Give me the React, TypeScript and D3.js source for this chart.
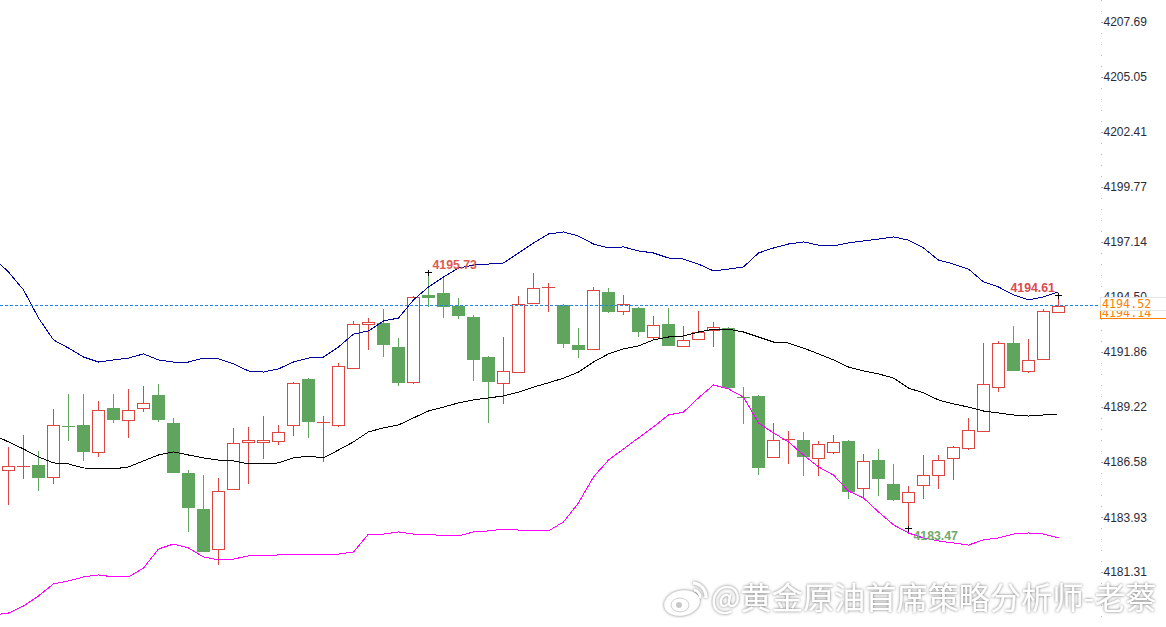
import React, { useEffect, useRef } from 'react';
import * as d3 from 'd3';

const WIDTH = 1166;
const HEIGHT = 627;

const tickLabels = ['4207.69', '4205.05', '4202.41', '4199.77', '4197.14', '4194.50', '4191.86', '4189.22', '4186.58', '4183.93', '4181.31'];

const opens = [
  4186.23, 4186.43, 4186.47, 4185.90, 4188.34, 4188.39, 4187.10, 4189.21, 4188.63, 4189.21,
  4189.83, 4188.49, 4186.09, 4184.36, 4182.44, 4185.32, 4187.58, 4187.58, 4187.62, 4188.39,
  4190.60, 4188.54, 4188.39, 4191.12, 4193.24, 4193.28, 4192.13, 4190.45, 4194.63, 4194.72,
  4194.10, 4193.57, 4191.65, 4190.41, 4190.93, 4194.24, 4195.01, 4194.15, 4192.23, 4192.04,
  4194.77, 4193.86, 4194.00, 4192.61, 4193.24, 4192.18, 4192.52, 4192.95, 4193.04, 4189.73,
  4189.78, 4186.86, 4187.72, 4187.67, 4186.81, 4187.10, 4187.62, 4185.37, 4186.71, 4185.56,
  4184.70, 4185.51, 4185.99, 4186.81, 4187.29, 4188.10, 4190.21, 4192.32, 4190.98, 4191.56,
  4193.81,
];
const highs = [
  4187.33, 4187.91, 4187.14, 4189.16, 4189.88, 4189.88, 4189.54, 4189.88, 4190.12, 4190.26,
  4190.36, 4188.73, 4186.23, 4185.99, 4185.85, 4188.25, 4188.30, 4188.82, 4188.39, 4190.45,
  4190.64, 4188.82, 4191.36, 4193.38, 4193.52, 4193.95, 4192.56, 4194.58, 4195.73, 4195.49,
  4194.48, 4193.67, 4191.70, 4192.61, 4194.58, 4195.68, 4195.20, 4194.19, 4193.04, 4195.01,
  4194.96, 4194.63, 4194.05, 4193.62, 4194.00, 4193.14, 4193.86, 4193.33, 4193.09, 4190.21,
  4189.83, 4188.49, 4188.10, 4188.06, 4187.62, 4187.91, 4187.67, 4187.00, 4187.24, 4186.52,
  4185.47, 4186.95, 4186.95, 4187.38, 4188.73, 4192.32, 4192.42, 4193.14, 4192.52, 4193.95,
  4194.61,
];
const lows = [
  4184.55, 4185.80, 4185.22, 4185.56, 4187.62, 4186.67, 4186.86, 4188.49, 4187.77, 4189.01,
  4188.54, 4186.09, 4183.26, 4182.30, 4181.68, 4185.32, 4185.56, 4186.76, 4187.43, 4187.86,
  4187.77, 4186.62, 4188.30, 4191.12, 4191.99, 4191.65, 4190.26, 4190.36, 4194.05, 4193.52,
  4193.47, 4190.50, 4188.49, 4189.40, 4190.93, 4194.24, 4193.81, 4192.08, 4191.60, 4192.04,
  4193.76, 4193.67, 4192.61, 4192.47, 4192.18, 4192.18, 4192.52, 4192.13, 4190.16, 4188.44,
  4185.99, 4186.86, 4186.52, 4185.95, 4185.95, 4187.00, 4184.84, 4184.89, 4184.99, 4184.75,
  4183.47, 4184.84, 4185.32, 4185.75, 4187.19, 4188.06, 4189.97, 4190.98, 4190.88, 4191.56,
  4193.81,
];
const closes = [
  4186.43, 4186.43, 4185.85, 4188.39, 4188.33, 4187.10, 4189.11, 4188.63, 4189.11, 4189.45,
  4188.63, 4186.09, 4184.41, 4182.30, 4185.22, 4187.53, 4187.67, 4187.67, 4188.06, 4190.41,
  4188.54, 4188.54, 4191.22, 4193.24, 4193.33, 4192.23, 4190.41, 4194.53, 4194.48, 4194.05,
  4193.62, 4191.51, 4190.45, 4190.98, 4194.19, 4194.96, 4195.01, 4192.27, 4191.99, 4194.87,
  4193.81, 4194.19, 4192.85, 4193.19, 4192.18, 4192.47, 4192.85, 4193.09, 4190.16, 4189.72,
  4186.33, 4187.67, 4187.72, 4186.86, 4187.48, 4187.58, 4185.18, 4186.67, 4185.80, 4184.79,
  4185.18, 4185.99, 4186.71, 4187.33, 4188.15, 4190.36, 4192.32, 4190.98, 4191.51, 4193.86,
  4194.10,
];

// Band values start one bar before the first candle, the line runs off the left edge
const upperBand = [
  4196.40, 4195.73, 4194.87, 4193.52, 4192.47, 4192.08, 4191.65, 4191.41, 4191.51, 4191.60,
  4191.80, 4191.51, 4191.41, 4191.41, 4191.60, 4191.56, 4191.32, 4190.98, 4190.93, 4191.08,
  4191.41, 4191.60, 4191.65, 4192.13, 4192.75, 4192.90, 4193.38, 4193.52, 4194.39, 4195.01,
  4195.49, 4195.92, 4196.06, 4196.11, 4196.16, 4196.64, 4197.12, 4197.55, 4197.65, 4197.45,
  4197.07, 4196.88, 4196.93, 4196.74, 4196.64, 4196.40, 4196.35, 4196.11, 4195.78, 4195.87,
  4195.97, 4196.64, 4196.88, 4197.07, 4197.17, 4197.02, 4196.98, 4197.12, 4197.22, 4197.31,
  4197.41, 4197.26, 4196.88, 4196.30, 4196.11, 4195.87, 4195.25, 4195.01, 4194.63, 4194.39,
  4194.53, 4194.77,
];
const middleBand = [
  4187.91, 4187.58, 4187.24, 4186.86, 4186.57, 4186.52, 4186.33, 4186.28, 4186.28, 4186.38,
  4186.67, 4186.95, 4187.10, 4186.95, 4186.81, 4186.71, 4186.67, 4186.52, 4186.52, 4186.57,
  4186.81, 4186.90, 4186.81, 4187.19, 4187.58, 4188.06, 4188.25, 4188.39, 4188.73, 4189.06,
  4189.25, 4189.45, 4189.59, 4189.69, 4189.78, 4189.97, 4190.21, 4190.41, 4190.64, 4190.93,
  4191.41, 4191.80, 4192.04, 4192.18, 4192.47, 4192.61, 4192.66, 4192.85, 4192.99, 4192.99,
  4192.85, 4192.61, 4192.37, 4192.32, 4192.08, 4191.80, 4191.51, 4191.17, 4190.98, 4190.84,
  4190.64, 4190.16, 4189.93, 4189.59, 4189.40, 4189.25, 4189.06, 4188.97, 4188.87, 4188.82,
  4188.87, 4188.92,
];
const lowerBand = [
  4179.28, 4179.37, 4179.71, 4180.19, 4180.77, 4180.91, 4181.10, 4181.20, 4181.10, 4181.10,
  4181.53, 4182.44, 4182.68, 4182.49, 4182.06, 4181.92, 4181.96, 4182.11, 4182.11, 4182.16,
  4182.16, 4182.20, 4182.20, 4182.20, 4182.30, 4183.16, 4183.16, 4183.26, 4183.16, 4183.16,
  4183.07, 4183.07, 4183.26, 4183.31, 4183.40, 4183.35, 4183.31, 4183.31, 4183.74, 4184.65,
  4185.90, 4186.71, 4187.24, 4187.77, 4188.30, 4188.87, 4189.01, 4189.69, 4190.31, 4190.12,
  4189.73, 4188.49, 4188.01, 4187.58, 4186.95, 4186.38, 4185.99, 4185.22, 4184.89, 4184.22,
  4183.60, 4183.21, 4182.97, 4182.83, 4182.73, 4182.63, 4182.88, 4182.97, 4183.16, 4183.21,
  4183.16, 4182.97,
];

const lastPrice = 4194.14;
const extremes = [
  { index: 28, price: 4195.73, label: '4195.73', color: '#dc5a50', dx: 4, dy: -7 },
  { index: 70, price: 4194.61, label: '4194.61', color: '#dc4a50', dx: -48, dy: -7 },
  { index: 60, price: 4183.47, label: '4183.47', color: '#6fa86a', dx: 5, dy: 8 },
];

const RED = '#dc4540';
const GREEN = '#60a55d';
const AXIS_X = 1101;

const App: React.FC = () => {
  const svgRef = useRef<SVGSVGElement>(null);

  useEffect(() => {
    if (!svgRef.current) return;
    const svg = d3.select(svgRef.current);
    svg.selectAll('*').remove();

    const x = d3.scaleLinear().domain([0, 70]).range([8.5, 1058.5]);
    const y = d3.scaleLinear().domain([4181.31, 4207.69]).range([572.6, 22.6]);
    const snap = (v: number) => Math.round(v) + 0.5;

    const defs = svg.append('defs');
    const glow = defs.append('filter').attr('id', 'mark-glow').attr('x', '-5%').attr('y', '-30%').attr('width', '110%').attr('height', '160%');
    glow.append('feDropShadow').attr('dx', 0).attr('dy', 0).attr('stdDeviation', 1.5).attr('flood-color', '#666').attr('flood-opacity', 0.95);

    const bars = svg.append('g').attr('shape-rendering', 'crispEdges');
    opens.forEach((open, i) => {
      const close = closes[i];
      const down = close < open;
      const color = down ? GREEN : RED;
      const cx = x(i);
      bars.append('line').attr('x1', cx).attr('x2', cx).attr('y1', Math.round(y(highs[i]))).attr('y2', Math.round(y(lows[i]))).attr('stroke', color);

      const top = Math.round(y(Math.max(open, close)));
      const bottom = Math.round(y(Math.min(open, close)));
      if (bottom - top < 1) {
        bars.append('line').attr('x1', cx - 6.5).attr('x2', cx + 6.5).attr('y1', top + 0.5).attr('y2', top + 0.5).attr('stroke', color);
      } else if (down) {
        bars.append('rect').attr('x', cx - 6.5).attr('y', top).attr('width', 13).attr('height', bottom - top).attr('fill', color);
      } else {
        bars.append('rect').attr('x', cx - 6).attr('y', top + 0.5).attr('width', 12).attr('height', bottom - top).attr('fill', '#fff').attr('stroke', color);
      }
    });

    const line = d3
      .line<number>()
      .x((_d, i) => x(i - 1))
      .y(d => y(d));
    const bands: [number[], string][] = [
      [upperBand, '#00009c'],
      [middleBand, '#000000'],
      [lowerBand, '#ff00ff'],
    ];
    bands.forEach(([values, color]) => {
      svg.append('path').attr('d', line(values)).attr('fill', 'none').attr('stroke', color).attr('shape-rendering', 'crispEdges');
    });

    svg
      .append('line')
      .attr('x1', 0)
      .attr('x2', AXIS_X)
      .attr('y1', snap(y(lastPrice)))
      .attr('y2', snap(y(lastPrice)))
      .attr('stroke', '#1a85e8')
      .attr('stroke-dasharray', '3 2')
      .attr('shape-rendering', 'crispEdges');

    // high / low markers
    extremes.forEach(e => {
      const cx = x(e.index);
      const cy = snap(y(e.price));
      svg.append('line').attr('x1', cx - 3.5).attr('x2', cx + 3.5).attr('y1', cy).attr('y2', cy).attr('stroke', '#000').attr('shape-rendering', 'crispEdges');
      svg.append('line').attr('x1', cx).attr('x2', cx).attr('y1', cy - 3).attr('y2', cy + 3).attr('stroke', '#000').attr('shape-rendering', 'crispEdges');
      svg
        .append('text')
        .attr('x', cx + e.dx)
        .attr('y', cy + e.dy)
        .attr('dominant-baseline', 'middle')
        .attr('fill', e.color)
        .style('font-family', '"Liberation Sans", Arial, sans-serif')
        .style('font-size', '12.3px')
        .style('font-weight', 'bold')
        .text(e.label);
    });

    // price axis
    const axis = svg.append('g');
    axis
      .append('line')
      .attr('x1', AXIS_X + 0.5)
      .attr('x2', AXIS_X + 0.5)
      .attr('y1', 0)
      .attr('y2', HEIGHT)
      .attr('stroke', '#bdbdbd')
      .attr('stroke-dasharray', '1 10')
      .attr('shape-rendering', 'crispEdges');
    tickLabels.forEach(label => {
      const ty = y(+label);
      axis.append('line').attr('x1', AXIS_X).attr('x2', AXIS_X + 2).attr('y1', snap(ty) - 1).attr('y2', snap(ty) - 1).attr('stroke', '#aaa').attr('shape-rendering', 'crispEdges');
      axis
        .append('text')
        .attr('x', AXIS_X + 2.5)
        .attr('y', ty + 0.5)
        .attr('dominant-baseline', 'middle')
        .attr('fill', '#2b2b3a')
        .style('font-family', '"Liberation Sans", Arial, sans-serif')
        .style('font-size', '12px')
        .text(label);
    });

    // current price boxes
    const tag = svg.append('g');
    const mono = '"DejaVu Sans Mono", monospace';
    tag.append('text').attr('x', 1102).attr('y', 313).attr('dominant-baseline', 'middle').attr('fill', '#ff8000').style('font-family', mono).style('font-size', '11.7px').text('4194.14');
    tag.append('rect').attr('x', 1100.5).attr('y', 297.5).attr('width', 66).attr('height', 13).attr('fill', '#fff').attr('stroke', '#e4e4e4').attr('shape-rendering', 'crispEdges');
    tag.append('text').attr('x', 1102).attr('y', 304).attr('dominant-baseline', 'middle').attr('fill', '#ff8000').style('font-family', mono).style('font-size', '11.7px').text('4194.52');
    tag.append('path').attr('d', 'M1100.5,311V318.5H1166').attr('fill', 'none').attr('stroke', '#ff8000').attr('shape-rendering', 'crispEdges');

    // watermark
    const mark = svg.append('g').attr('filter', 'url(#mark-glow)');
    mark
      .append('text')
      .attr('x', 711)
      .attr('y', 601)
      .attr('dominant-baseline', 'middle')
      .attr('fill', '#ffffff')
      .style('font-family', '"Noto Sans CJK SC", sans-serif')
      .style('font-size', '31.2px')
      .text('@黄金原油首席策略分析师-老蔡');
    mark.append('ellipse').attr('cx', 682).attr('cy', 603).attr('rx', 18).attr('ry', 12.5).attr('transform', 'rotate(-12 682 603)').attr('fill', '#fff');
    mark.append('ellipse').attr('cx', 680).attr('cy', 605).attr('rx', 9).attr('ry', 7).attr('fill', '#fff').attr('stroke', '#d0d0d0');
    mark.append('circle').attr('cx', 679).attr('cy', 605).attr('r', 3).attr('fill', '#c8c8c8');
    mark.append('path').attr('d', 'M693,583a14,14 0 0 1 13,15').attr('fill', 'none').attr('stroke', '#fff').attr('stroke-width', 3);
    mark.append('path').attr('d', 'M694,590a7,7 0 0 1 6,8').attr('fill', 'none').attr('stroke', '#fff').attr('stroke-width', 2.5);
  }, []);

  return <svg ref={svgRef} width={WIDTH} height={HEIGHT} style={{ position: 'absolute', left: 0, top: 0, background: '#fff' }} />;
};

export default App;
